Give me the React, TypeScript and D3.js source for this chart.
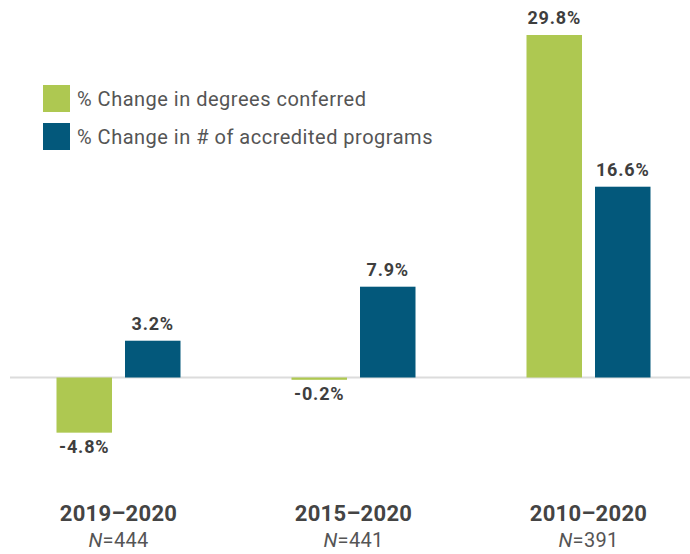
import React from "react";
import * as d3 from "d3";

const categories = ["2019–2020", "2015–2020", "2010–2020"];
const nLabels = ["444", "441", "391"];
const seriesNames = ["% Change in degrees conferred", "% Change in # of accredited programs"];
const degreesChange = [-4.8, -0.2, 29.8];
const programsChange = [3.2, 7.9, 16.6];
const seriesColors = ["#aec851", "#03587b"];

const W = 690;
const H = 554;
const FONT = "Roboto, 'Open Sans', sans-serif";

export default function App() {
  const x = d3.scalePoint<string>().domain(categories).range([118.5, 588.5]);
  const inner = d3.scaleBand<string>().domain(["a", "b"]).range([-62, 62]).paddingInner(0.19);
  const y = d3.scaleLinear().domain([0, 29.8]).range([377.5, 35]);
  const series = [degreesChange, programsChange];
  const keys = ["a", "b"];
  const fmt = (v: number) => `${v.toFixed(1)}%`;

  return (
    <svg width={W} height={H} style={{ position: "absolute", left: 0, top: 0, fontFamily: FONT }}>
      <rect width={W} height={H} fill="#fff" />
      <line x1={10} x2={690} y1={y(0)} y2={y(0)} stroke="#dcdcdc" strokeWidth={2} />
      {series.map((vals, si) =>
        vals.map((v, ci) => {
          const bx = (x(categories[ci]) as number) + (inner(keys[si]) as number);
          const bw = inner.bandwidth();
          const y0 = y(0);
          const yv = y(v);
          const top = Math.min(y0, yv);
          const h = Math.max(Math.abs(y0 - yv), 2);
          const labelY = v >= 0 ? yv - 11 : Math.max(yv, y0 + 2) + 20;
          return (
            <g key={`${si}-${ci}`}>
              <rect x={bx} y={v >= 0 ? top : y0} width={bw} height={h} fill={seriesColors[si]} />
              <text
                x={bx + bw / 2}
                y={labelY}
                textAnchor="middle"
                fontSize={18}
                fontWeight={700}
                letterSpacing={0.8}
                fill="#3e3e3e"
              >
                {fmt(v)}
              </text>
            </g>
          );
        })
      )}
      {categories.map((c, i) => (
        <g key={c}>
          <text x={x(c)} y={521} textAnchor="middle" fontSize={22} fontWeight={700} letterSpacing={0.3} fill="#444">
            {c}
          </text>
          <text x={x(c)} y={547} textAnchor="middle" fontSize={20} letterSpacing={0.3} fill="#555">
            <tspan fontStyle="italic">N</tspan>={nLabels[i]}
          </text>
        </g>
      ))}
      {seriesNames.map((s, i) => (
        <g key={s} transform={`translate(43, ${85 + i * 38})`}>
          <rect width={27} height={27} fill={seriesColors[i]} />
          <text x={34} y={21} fontSize={20} letterSpacing={0.5} fill="#555">
            {s}
          </text>
        </g>
      ))}
    </svg>
  );
}
